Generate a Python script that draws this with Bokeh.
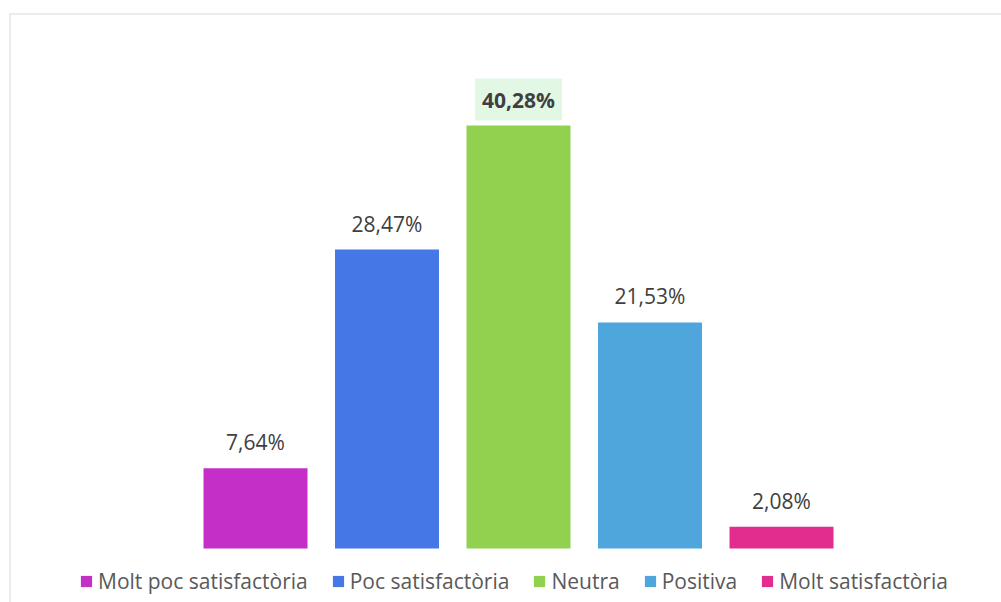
import numpy as np
from bokeh.plotting import figure
from bokeh.models import ColumnDataSource, Range1d, LabelSet, Label, Span
from bokeh.core.properties import value
from bokeh.embed import file_html
from bokeh.resources import INLINE

categories = ["Molt poc satisfactòria", "Poc satisfactòria", "Neutra", "Positiva", "Molt satisfactòria"]
values = [7.64, 28.47, 40.28, 21.53, 2.08]
colors = ["#C42FC8", "#4677E6", "#92D050", "#4FA6DC", "#E22D8E"]

labels = [f"{v:.2f}".replace(".", ",") + "%" for v in values]
xs = list(range(len(categories)))
imax = int(np.argmax(values))

src = ColumnDataSource(dict(x=xs, top=values, color=colors, cat=categories, label=labels))
src_norm = ColumnDataSource(dict(x=[xs[i] for i in range(len(xs)) if i != imax],
                                 y=[values[i] for i in range(len(xs)) if i != imax],
                                 label=[labels[i] for i in range(len(xs)) if i != imax]))

W, H = 1001, 602
L, T = 9, 13
step = 131.5
x_start = -(255 - L) / step
x_end = x_start + (W - L) / step
ppu = 10.5
y_end = (548 - T) / ppu
y_start = -(H - 548) / ppu

p = figure(width=W, height=H, output_backend="svg", toolbar_location=None,
           x_range=Range1d(x_start, x_end), y_range=Range1d(y_start, y_end),
           min_border_left=L, min_border_top=T, min_border_right=0, min_border_bottom=0)
p.xaxis.visible = False
p.yaxis.visible = False
p.grid.visible = False
p.outline_line_color = None
p.background_fill_color = "white"
p.border_fill_color = "white"

p.vbar(x="x", top="top", bottom=0, width=104 / step, color="color", line_color=None,
       legend_field="cat", source=src)

p.add_layout(Span(location=x_start, dimension="height", line_color="#D9D9D9", line_width=2))
p.add_layout(Span(location=y_end, dimension="width", line_color="#D9D9D9", line_width=2))

p.add_layout(LabelSet(x="x", y="y", text="label", source=src_norm, y_offset=18,
                      text_align="center", text_baseline="alphabetic",
                      text_font=value("Open Sans"), text_font_size="21px", text_color="#404040"))
p.add_layout(Label(x=xs[imax], y=values[imax], text=labels[imax], y_offset=26,
                   text_align="center", text_baseline="alphabetic",
                   text_font="Open Sans", text_font_size="21px", text_font_style="bold",
                   text_color="#404040", background_fill_color="#E2F8E4", padding=7))

lg = p.legend[0]
lg.orientation = "horizontal"
lg.location = (70, 7)
lg.padding = 0
lg.margin = 0
lg.spacing = 23
lg.border_line_color = None
lg.background_fill_alpha = 0
lg.glyph_width = 14
lg.glyph_height = 14
lg.label_standoff = 5
lg.label_text_font = "Open Sans"
lg.label_text_font_size = "21px"
lg.label_text_color = "#595959"

open("out.html", "w").write(file_html(p, INLINE))
